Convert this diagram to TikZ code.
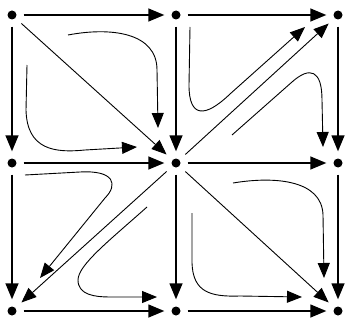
\documentclass[tikz,border=0pt]{standalone}
\usetikzlibrary{arrows.meta}
\begin{document}
\begin{tikzpicture}[x=1pt,y=-1pt,
  dot/.style={circle,fill=black,inner sep=0pt,minimum size=9pt},
  edge/.style={line width=1.4pt,-{Triangle[length=16pt,width=13pt]},shorten <=7pt,shorten >=7pt},
  diag/.style={line width=0.9pt,-{Triangle[length=15pt,width=12pt]},shorten <=8pt,shorten >=8pt},
  curve/.style={line width=0.9pt,-{Triangle[length=15pt,width=12pt]}}]
\useasboundingbox (0,0) rectangle (345,321);
% dots
\node[dot] (a00) at (12,15) {};
\node[dot] (a10) at (176,15) {};
\node[dot] (a20) at (338,15) {};
\node[dot] (a01) at (12,163) {};
\node[dot] (a11) at (176,163) {};
\node[dot] (a21) at (338,163) {};
\node[dot] (a02) at (12,311) {};
\node[dot] (a12) at (176,311) {};
\node[dot] (a22) at (338,311) {};
% horizontal edges
\draw[edge] (a00) -- (a10);
\draw[edge] (a10) -- (a20);
\draw[edge] (a01) -- (a11);
\draw[edge] (a11) -- (a21);
\draw[edge] (a02) -- (a12);
\draw[edge] (a12) -- (a22);
% vertical edges
\draw[edge] (a00) -- (a01);
\draw[edge] (a01) -- (a02);
\draw[edge] (a10) -- (a11);
\draw[edge] (a11) -- (a12);
\draw[edge] (a20) -- (a21);
\draw[edge] (a21) -- (a22);
% diagonals
\draw[diag] (a00) -- (a11);
\draw[diag] (a11) -- (a20);
\draw[diag] (a11) -- (a02);
\draw[diag] (a11) -- (a22);
% top-left square curves
\draw[curve] (68,35) .. controls (110,27) and (157,32) .. (157,70) -- (158,128);
\draw[curve] (27,65) -- (26,110) .. controls (27,150) and (55,153) .. (85,150) -- (137,147);
% top-right square curves
\draw[curve] (190,27) -- (189,85) .. controls (189,118) and (205,118) .. (230,94) -- (305,27);
\draw[curve] (232,135) -- (292,82) .. controls (310,66) and (322,70) .. (322,100) -- (323,147);
% bottom-left square curves
\draw[curve] (25,175) -- (80,172) .. controls (115,170) and (118,185) .. (105,198) -- (40,278);
\draw[curve] (147,207) .. controls (110,240) and (78,265) .. (78,280) .. controls (78,295) and (95,297) .. (110,297) -- (157,297);
% bottom-right square curves
\draw[curve] (233,183) .. controls (275,176) and (322,180) .. (323,215) -- (324,278);
\draw[curve] (192,213) -- (192,263) .. controls (193,292) and (210,297) .. (240,296) -- (302,297);
\end{tikzpicture}
\end{document}
